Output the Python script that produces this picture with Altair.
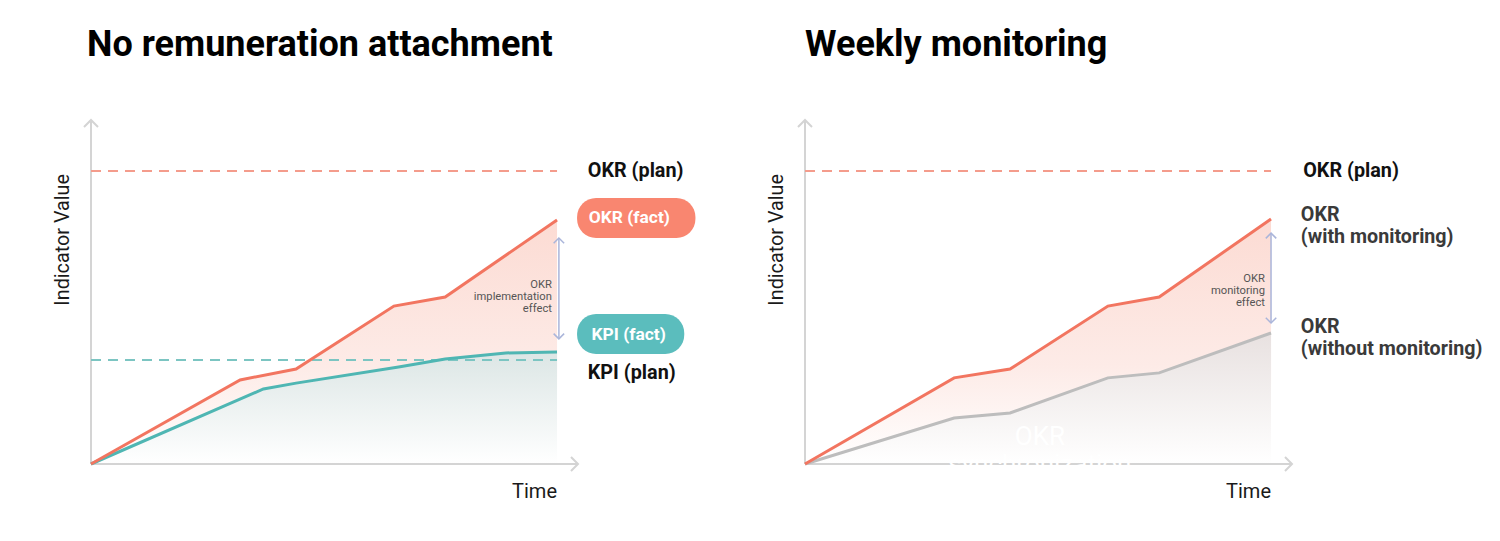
import altair as alt
import pandas as pd

# ---------------- data ----------------
TIME = [0, 3.2, 4.4, 6.5, 7.6, 10]
OKR_FACT = [0, 28.7, 32.4, 53.9, 57.0, 83.3]
KPI_TIME = [0, 3.7, 4.4, 6.6, 7.6, 8.9, 10]
KPI_FACT = [0, 25.6, 27.6, 33.1, 35.8, 37.9, 38.2]
OKR_WITH = [0, 29.4, 32.4, 53.9, 57.0, 83.6]
OKR_WITHOUT = [0, 15.7, 17.4, 29.4, 31.1, 44.7]
PLAN_SPAN = [0, 10]
OKR_PLAN = 100
KPI_PLAN = 35.5
EFFECT_LEFT = [42.7, 77.1]
EFFECT_RIGHT = [48.1, 78.8]
X_MAX = 10.45
Y_MAX = 117.4

W, H = 487, 344
FONT = "Roboto"

OKR_LINE = "#f27560"
OKR_PLAN_C = "#f49c8c"
KPI_LINE = "#4fb6b3"
KPI_PLAN_C = "#7cc5c2"
GRAY_LINE = "#bdbdbd"
AXIS_C = "#d4d4d4"
ARROW_C = "#aab5da"

XS = alt.Scale(domain=[0, X_MAX], nice=False, zero=False)
YS = alt.Scale(domain=[0, Y_MAX], nice=False, zero=False)


def X(f="t"):
    return alt.X(f"{f}:Q", scale=XS, axis=None)


def Y(f="v"):
    return alt.Y(f"{f}:Q", scale=YS, axis=None)


def grad(stops):
    return alt.Gradient(gradient="linear", x1=1, x2=1, y1=0, y2=1,
                        stops=[alt.GradientStop(offset=o, color=c) for o, c in stops])


def series(ts, vs):
    return pd.DataFrame({"t": ts, "v": vs})


def area(df, stops):
    return alt.Chart(df).mark_area(color=grad(stops), clip=False).encode(x=X(), y=Y())


def line(df, color, width=3, dash=None):
    kw = dict(color=color, strokeWidth=width, clip=False)
    if dash:
        kw["strokeDash"] = dash
    return alt.Chart(df).mark_line(**kw).encode(x=X(), y=Y())


def axes_layers():
    yax = alt.Chart(pd.DataFrame({"t": [0], "v": [0], "v2": [Y_MAX]})).mark_rule(
        color=AXIS_C, strokeWidth=2).encode(x=X(), y=Y(), y2="v2:Q")
    xax = alt.Chart(pd.DataFrame({"t": [0], "t2": [X_MAX], "v": [0]})).mark_rule(
        color=AXIS_C, strokeWidth=2).encode(x=X(), x2="t2:Q", y=Y())
    up = alt.Chart(pd.DataFrame({"t": [0], "v": [Y_MAX]})).mark_point(
        shape="M -1 1 L 0 0 L 1 1", filled=False, color=AXIS_C, strokeWidth=2,
        size=196, opacity=1).encode(x=X(), y=Y())
    right = alt.Chart(pd.DataFrame({"t": [X_MAX], "v": [0]})).mark_point(
        shape="M -1 -1 L 0 0 L -1 1", filled=False, color=AXIS_C, strokeWidth=2,
        size=196, opacity=1).encode(x=X(), y=Y())
    ytitle = alt.Chart(pd.DataFrame({"t": [-0.6], "v": [76.5], "s": ["Indicator Value"]})).mark_text(
        angle=270, font=FONT, fontSize=19.8, color="#1a1a1a", baseline="middle", align="center").encode(
        x=X(), y=Y(), text="s:N")
    xtitle = alt.Chart(pd.DataFrame({"t": [10.0], "v": [-9.6], "s": ["Time"]})).mark_text(
        font=FONT, fontSize=20, color="#1a1a1a", baseline="middle", align="right").encode(
        x=X(), y=Y(), text="s:N")
    return [yax, xax, up, right, ytitle, xtitle]


def effect_arrow(xpos, ys, label, tx, ty):
    df = pd.DataFrame({"t": [xpos], "v": [ys[0]], "v2": [ys[1]]})
    shaft = alt.Chart(df).mark_rule(color=ARROW_C, strokeWidth=1.5).encode(
        x=X(), y=Y(), y2="v2:Q")
    top = alt.Chart(pd.DataFrame({"t": [xpos], "v": [ys[1]]})).mark_point(
        shape="M -1 1 L 0 0 L 1 1", filled=False, color=ARROW_C, strokeWidth=1.5,
        size=110, opacity=1).encode(x=X(), y=Y())
    bot = alt.Chart(pd.DataFrame({"t": [xpos], "v": [ys[0]]})).mark_point(
        shape="M -1 -1 L 0 0 L 1 -1", filled=False, color=ARROW_C, strokeWidth=1.5,
        size=110, opacity=1).encode(x=X(), y=Y())
    txt = alt.Chart(pd.DataFrame({"t": [tx], "v": [ty], "s": [label]})).mark_text(
        font=FONT, fontSize=11.2, color="#555555", align="right", baseline="middle",
        lineBreak="\n", lineHeight=12).encode(x=X(), y=Y(), text="s:N")
    return [shaft, top, bot, txt]


def label(tx, ty, s, color, size=19.8, weight="bold", lh=22):
    return alt.Chart(pd.DataFrame({"t": [tx], "v": [ty], "s": [s]})).mark_text(
        font=FONT, fontSize=size, fontWeight=weight, color=color, align="left",
        baseline="middle", lineBreak="\n", lineHeight=lh).encode(x=X(), y=Y(), text="s:N")


def pill(x1, x2, y1, y2, color):
    df = pd.DataFrame({"t": [x1], "t2": [x2], "v": [y1], "v2": [y2]})
    return alt.Chart(df).mark_rect(color=color, cornerRadius=19).encode(
        x=X(), x2="t2:Q", y=Y(), y2="v2:Q")


def title(text, dx):
    return alt.TitleParams(text=text, anchor="start", frame="group", font=FONT,
                           fontSize=36, fontWeight="bold", color="#000000",
                           baseline="alphabetic", offset=24, dx=dx)


PINK = [(0, "#fcdbd3"), (0.6, "#fdebe7"), (1, "#ffffff")]

# ---------------- left panel ----------------
okr_df = series(TIME, OKR_FACT)
kpi_df = series(KPI_TIME, KPI_FACT)
left_layers = [
    area(okr_df, PINK),
    area(kpi_df, [(0, "#dce6e5"), (1, "#ffffff")]),
    *axes_layers(),
    line(series(PLAN_SPAN, [OKR_PLAN, OKR_PLAN]), OKR_PLAN_C, 2.2, dash=[10, 7]),
    line(series(PLAN_SPAN, [KPI_PLAN, KPI_PLAN]), KPI_PLAN_C, 2.2, dash=[10, 7]),
    line(kpi_df, KPI_LINE),
    line(okr_df, OKR_LINE),
    *effect_arrow(10.04, EFFECT_LEFT, "OKR\nimplementation\neffect", 9.89, 61.1),
    pill(10.43, 12.97, 77.1, 90.8, "#f98670"),
    pill(10.43, 12.73, 37.5, 51.2, "#5bbdbd"),
    label(10.66, OKR_PLAN, "OKR (plan)", "#111111"),
    label(10.68, 84.0, "OKR (fact)", "#ffffff", size=17.4),
    label(10.74, 44.0, "KPI (fact)", "#ffffff", size=17.4),
    label(10.66, 31.0, "KPI (plan)", "#111111"),
]
left = alt.layer(*left_layers).properties(width=W, height=H,
                                           title=title("No remuneration attachment", -4))

# ---------------- right panel ----------------
with_df = series(TIME, OKR_WITH)
without_df = series(TIME, OKR_WITHOUT)
right_layers = [
    area(with_df, PINK),
    area(without_df, [(0, "#e8e1e0"), (1, "#ffffff")]),
    *axes_layers(),
    line(series(PLAN_SPAN, [OKR_PLAN, OKR_PLAN]), OKR_PLAN_C, 2.2, dash=[10, 7]),
    line(without_df, GRAY_LINE),
    line(with_df, OKR_LINE),
    *effect_arrow(10.0, EFFECT_RIGHT, "OKR\nmonitoring\neffect", 9.87, 63.1),
    label(10.69, OKR_PLAN, "OKR (plan)", "#111111"),
    label(10.64, 85.0, "OKR\n(with monitoring)", "#3a3a3a", size=19.7),
    label(10.64, 46.8, "OKR\n(without monitoring)", "#3a3a3a", size=19.7),
    alt.Chart(pd.DataFrame({"t": [5.04], "v": [9.2], "s": ["OKR\nsynchronization"]})).mark_text(
        font=FONT, fontSize=26, color="#ffffff", align="center", baseline="middle",
        lineBreak="\n", lineHeight=28).encode(x=X(), y=Y(), text="s:N"),
]
right = alt.layer(*right_layers).properties(width=W, height=H,
                                             title=title("Weekly monitoring", 0))

chart = alt.hconcat(left, right, spacing=227, bounds="flush").properties(
    padding={"left": 45, "top": 19, "right": 5, "bottom": 5}
).configure(
    background="#ffffff",
    view=alt.ViewConfig(strokeWidth=0, stroke="transparent"),
)

chart.save("out.html", embed_options={"renderer": "svg", "actions": False})
